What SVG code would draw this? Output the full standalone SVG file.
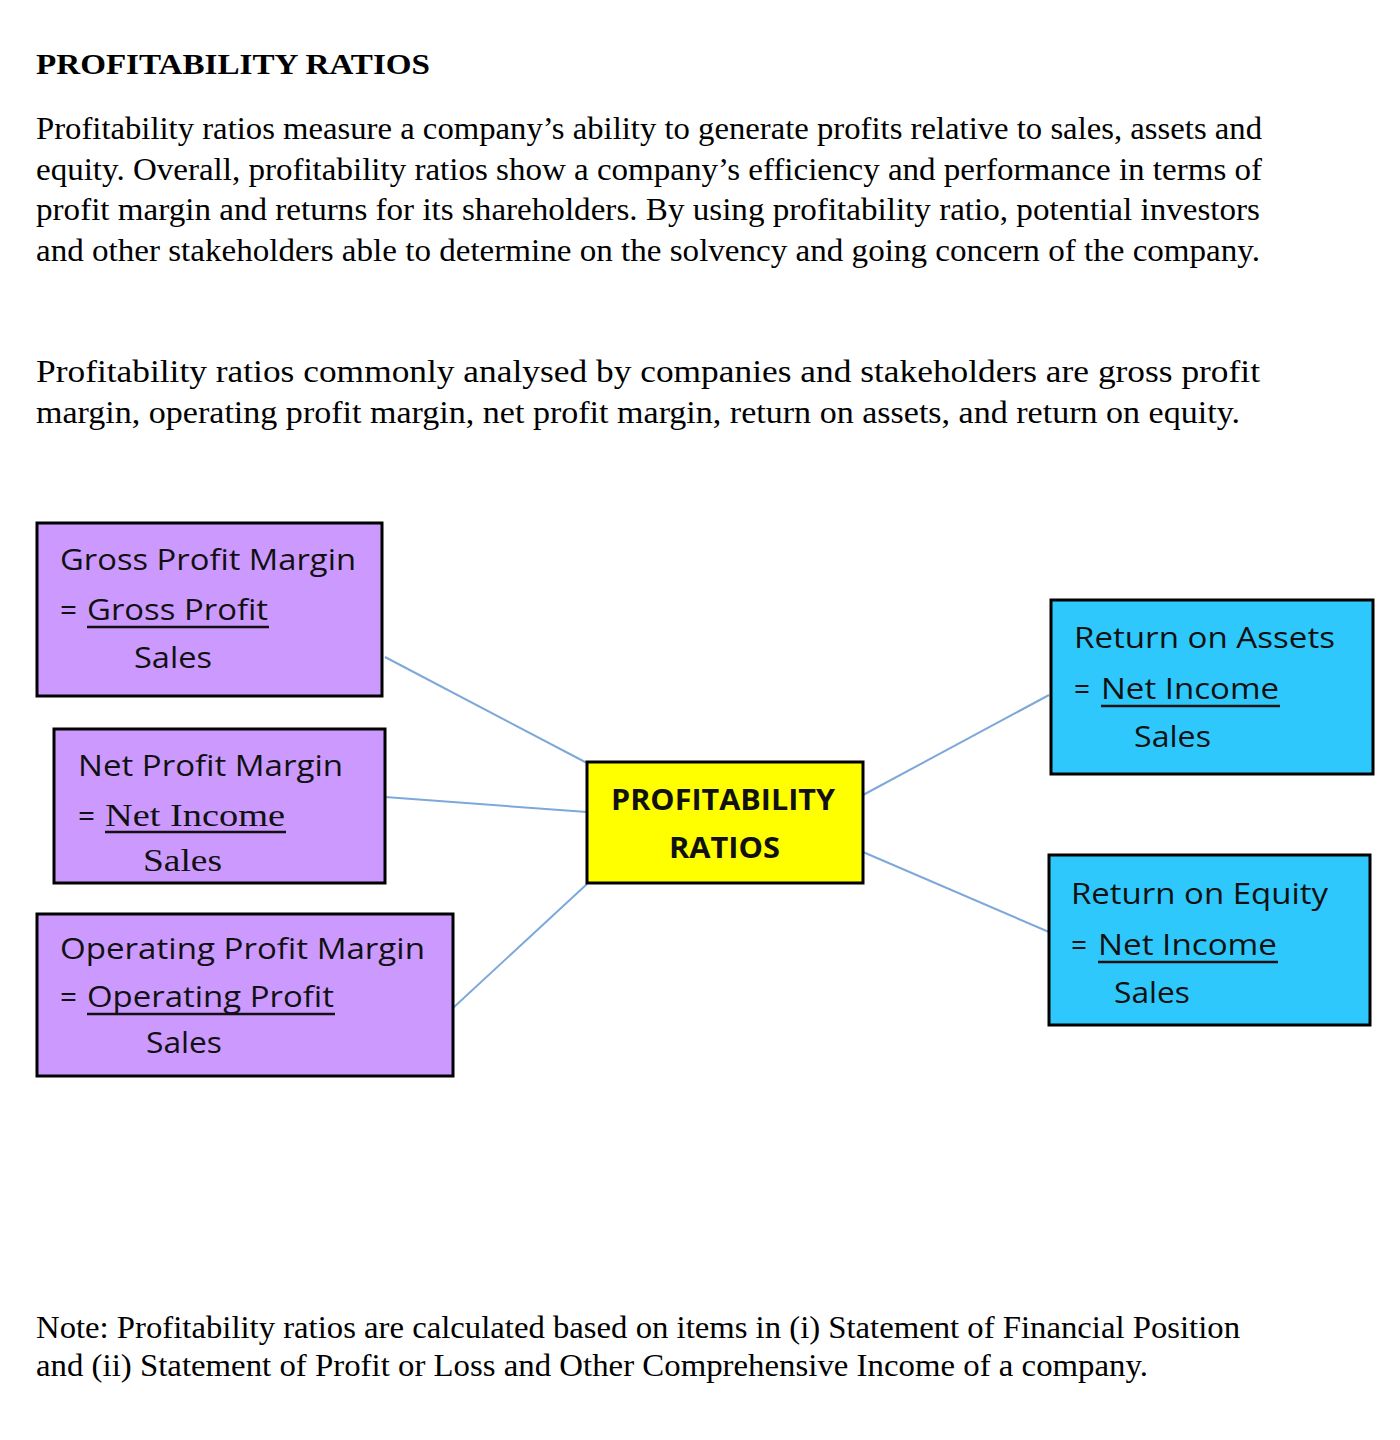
<svg xmlns="http://www.w3.org/2000/svg" width="1400" height="1440" viewBox="0 0 1400 1440">
<style>
.bg{fill:#ffffff}
.body{font-family:"Liberation Serif","Times New Roman",serif;font-size:31px;fill:#000}
.head{font-family:"Liberation Serif","Times New Roman",serif;font-size:30px;font-weight:bold;fill:#000}
.purple{fill:#CC99FF;stroke:#000;stroke-width:3}
.blue{fill:#2EC8FC;stroke:#000;stroke-width:3}
.yellow{fill:#FFFF00;stroke:#000;stroke-width:3}
.sans{font-family:"Open Sans","Liberation Sans",sans-serif;font-size:29px;fill:#111}
.serif{font-family:"Liberation Serif","Times New Roman",serif;font-size:32px;fill:#111}
.cond{font-family:"Open Sans","Liberation Sans",sans-serif;font-size:30px;fill:#111}
.bold{font-family:"Open Sans","Liberation Sans",sans-serif;font-size:29px;font-weight:bold;fill:#111}
.ul{stroke:#111;stroke-width:2.5}
.conn{stroke:#7DA8DA;stroke-width:2;fill:none}
</style>
<rect class="bg" x="0" y="0" width="1400" height="1440"/>
<g id="intro-text">
<text class="head" x="36" y="74" textLength="394" lengthAdjust="spacingAndGlyphs">PROFITABILITY RATIOS</text>
<text class="body" x="36" y="139" textLength="1226" lengthAdjust="spacingAndGlyphs">Profitability ratios measure a company’s ability to generate profits relative to sales, assets and</text>
<text class="body" x="36" y="179.5" textLength="1226" lengthAdjust="spacingAndGlyphs">equity. Overall, profitability ratios show a company’s efficiency and performance in terms of</text>
<text class="body" x="36" y="220" textLength="1224" lengthAdjust="spacingAndGlyphs">profit margin and returns for its shareholders. By using profitability ratio, potential investors</text>
<text class="body" x="36" y="260.5" textLength="1224" lengthAdjust="spacingAndGlyphs">and other stakeholders able to determine on the solvency and going concern of the company.</text>
<text class="body" x="36" y="382" textLength="1224" lengthAdjust="spacingAndGlyphs">Profitability ratios commonly analysed by companies and stakeholders are gross profit</text>
<text class="body" x="36" y="423" textLength="1204" lengthAdjust="spacingAndGlyphs">margin, operating profit margin, net profit margin, return on assets, and return on equity.</text>
</g>
<g id="connectors">
<line class="conn" x1="385" y1="657" x2="587" y2="763"/>
<line class="conn" x1="385" y1="797" x2="587" y2="812"/>
<line class="conn" x1="453" y1="1008" x2="587" y2="884"/>
<line class="conn" x1="863" y1="795" x2="1049" y2="695"/>
<line class="conn" x1="863" y1="852" x2="1049" y2="932"/>
</g>
<g id="gross-profit-margin">
<rect class="purple" x="37" y="523" width="345" height="173"/>
<text class="sans" x="60" y="570" textLength="296" lengthAdjust="spacingAndGlyphs">Gross Profit Margin</text>
<text class="sans" x="60" y="620" textLength="17" lengthAdjust="spacingAndGlyphs">=</text>
<text class="sans" x="87" y="620" textLength="181" lengthAdjust="spacingAndGlyphs">Gross Profit</text>
<line class="ul" x1="87" y1="627" x2="269" y2="627"/>
<text class="sans" x="134" y="668" textLength="78" lengthAdjust="spacingAndGlyphs">Sales</text>
</g>
<g id="net-profit-margin">
<rect class="purple" x="54" y="729" width="331" height="154"/>
<text class="sans" x="78" y="776" textLength="265" lengthAdjust="spacingAndGlyphs">Net Profit Margin</text>
<text class="sans" x="78" y="826" textLength="17" lengthAdjust="spacingAndGlyphs">=</text>
<text class="serif" x="105" y="826" textLength="180" lengthAdjust="spacingAndGlyphs">Net Income</text>
<line class="ul" x1="105" y1="832" x2="286" y2="832"/>
<text class="serif" x="143" y="871" textLength="79" lengthAdjust="spacingAndGlyphs">Sales</text>
</g>
<g id="operating-profit-margin">
<rect class="purple" x="37" y="914" width="416" height="162"/>
<text class="sans" x="60" y="959" textLength="365" lengthAdjust="spacingAndGlyphs">Operating Profit Margin</text>
<text class="sans" x="60" y="1007" textLength="17" lengthAdjust="spacingAndGlyphs">=</text>
<text class="sans" x="87" y="1007" textLength="247" lengthAdjust="spacingAndGlyphs">Operating Profit</text>
<line class="ul" x1="87" y1="1014" x2="335" y2="1014"/>
<text class="sans" x="146" y="1053" textLength="76" lengthAdjust="spacingAndGlyphs">Sales</text>
</g>
<g id="profitability-ratios">
<rect class="yellow" x="587" y="762" width="276" height="121"/>
<text class="bold" x="611" y="810" textLength="224" lengthAdjust="spacingAndGlyphs">PROFITABILITY</text>
<text class="bold" x="669" y="858" textLength="111" lengthAdjust="spacingAndGlyphs">RATIOS</text>
</g>
<g id="return-on-assets">
<rect class="blue" x="1051" y="600" width="322" height="174"/>
<text class="cond" x="1074" y="648" textLength="261" lengthAdjust="spacingAndGlyphs">Return on Assets</text>
<text class="cond" x="1074" y="699" textLength="16" lengthAdjust="spacingAndGlyphs">=</text>
<text class="cond" x="1101" y="699" textLength="178" lengthAdjust="spacingAndGlyphs">Net Income</text>
<line class="ul" x1="1101" y1="706" x2="1280" y2="706"/>
<text class="cond" x="1134" y="747" textLength="77" lengthAdjust="spacingAndGlyphs">Sales</text>
</g>
<g id="return-on-equity">
<rect class="blue" x="1049" y="855" width="321" height="170"/>
<text class="cond" x="1071" y="904" textLength="257" lengthAdjust="spacingAndGlyphs">Return on Equity</text>
<text class="cond" x="1071" y="955" textLength="16" lengthAdjust="spacingAndGlyphs">=</text>
<text class="cond" x="1098" y="955" textLength="179" lengthAdjust="spacingAndGlyphs">Net Income</text>
<line class="ul" x1="1098" y1="962" x2="1278" y2="962"/>
<text class="cond" x="1114" y="1003" textLength="76" lengthAdjust="spacingAndGlyphs">Sales</text>
</g>
<g id="note-text">
<text class="body" x="36" y="1338" textLength="1204" lengthAdjust="spacingAndGlyphs">Note: Profitability ratios are calculated based on items in (i) Statement of Financial Position</text>
<text class="body" x="36" y="1376" textLength="1112" lengthAdjust="spacingAndGlyphs">and (ii) Statement of Profit or Loss and Other Comprehensive Income of a company.</text>
</g>
</svg>
